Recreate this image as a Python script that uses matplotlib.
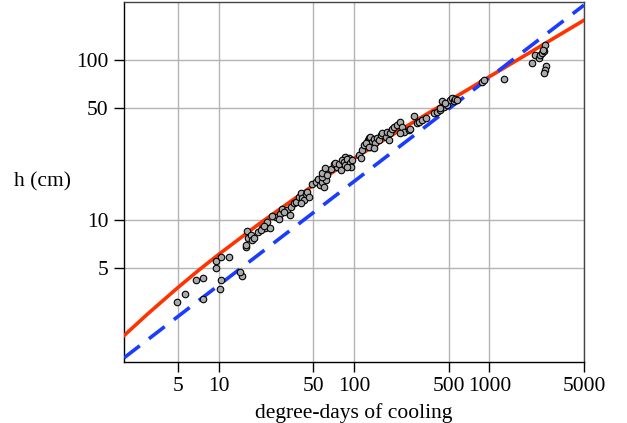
import matplotlib
matplotlib.use("Agg")
import matplotlib.pyplot as plt
from matplotlib.ticker import FixedLocator, FixedFormatter, NullLocator

# --- DATA ---
obs_dd = [4.96, 5.61, 6.76, 7.71, 7.71, 9.62, 9.62, 10.5, 11.9, 10.5, 10.3, 14.8, 14.5,
          16.1, 16.0, 16.0, 16.6, 17.2, 17.7, 18.2,
          19.6, 21.0, 22.0, 22.9, 23.8, 20.4, 21.5,
          26.4, 28.3, 29.5, 32.1, 33.6, 34.0, 36.0, 30.4, 24.8, 27.8,
          37.0, 39.1, 40.3, 41.4, 42.6, 43.9, 45.2, 46.5, 40.3,
          49.2, 52.0, 54.0, 55.8, 58.2, 60.0, 61.6, 58.2,
          62.7, 67.1, 70.9, 75.0, 79.5, 84.0, 89.0, 91.5, 86.5,
          58.2, 61.0, 63.5, 73.0, 77.2, 79.5, 82.0, 84.0, 86.5, 89.0, 93.0, 95.5, 97.3, 89.0,
          108, 115, 118, 126, 128, 132, 136, 140, 144, 132, 148, 153, 157, 162, 171, 176,
          181, 186, 191, 197, 208, 220, 226, 233, 218, 254, 261, 276, 293, 301, 320, 339,
          122, 128, 140, 112,
          388, 411, 430, 448, 460, 487, 515, 531, 546, 561, 578, 435, 474,
          883, 918, 1276,
          2065, 2183, 2312, 2377, 2448, 2518, 2588, 2635, 2588, 2546, 2490]
obs_h = [3.08, 3.48, 4.22, 4.32, 3.21, 5.57, 4.99, 5.90, 5.85, 4.22, 3.71, 4.47, 4.73,
         8.54, 6.81, 6.98, 7.69, 8.06, 7.5, 7.75,
         8.45, 8.87, 8.95, 9.67, 8.87, 8.66, 9.2,
         10.4, 10.9, 11.8, 11.5, 10.7, 12.0, 12.7, 11.3, 10.6, 10.2,
         13.0, 14.0, 14.8, 13.7, 13.3, 14.5, 15.0, 14.0, 12.7,
         16.9, 17.3, 18.0, 16.6, 17.3, 16.2, 17.8, 18.7,
         20.1, 20.8, 22.4, 21.5, 22.1, 22.6, 23.5, 24.3, 24.9,
         19.6, 21.0, 19.1, 22.8, 22.4, 20.5, 23.7, 23.1, 22.1, 23.9, 22.6, 21.3, 23.7, 21.5,
         25.5, 27.4, 29.4, 31.6, 32.4, 33.2, 30.8, 31.9, 30.1, 28.7, 32.4, 31.6, 34.0, 34.8, 33.2, 35.7,
         31.6, 34.8, 36.9, 38.3, 39.2, 41.1, 38.3, 35.7, 34.8, 36.5, 36.9, 44.7, 40.2, 41.1, 42.2, 43.3,
         30.1, 28.7, 28.0, 24.3,
         46.4, 47.5, 48.7, 55.5, 50.6, 52.4, 56.2, 57.6, 55.7, 56.8, 56.2, 49.9, 53.6,
         73.1, 75.0, 75.7,
         95.3, 107, 103, 107, 110, 113, 124, 91.7, 86.6, 82.6, 115]

# fitted model curve (red)
fit_dd = [2, 3, 5, 7.2, 10, 20, 56.6, 100, 200, 367, 500, 1000, 1600, 5000]
fit_h = [1.90, 2.60, 3.79, 4.90, 6.1, 9.5, 17.75, 24.3, 34.8, 47.4, 55.4, 78.6, 99.6, 177]

# power law (blue dashed)
pow_dd = [2, 5000]
pow_h = [1.38, 220]

xticks = [5, 10, 50, 100, 500, 1000, 5000]
yticks = [5, 10, 50, 100]

plt.rcParams['font.family'] = ['Liberation Serif', 'DejaVu Serif']
FS = 15.5

fig = plt.figure(figsize=(6.27, 4.23), dpi=100)
ax = fig.add_axes([124/627, 1 - 362/423, 460/627, 360/423])

ax.plot(fit_dd, fit_h, color='#ff3300', lw=2.6, zorder=3)
ax.plot(pow_dd, pow_h, color='#1a3cff', lw=2.6, dashes=(5.5, 3.2), zorder=3)
ax.scatter(obs_dd, obs_h, s=22, facecolor='#aaaaaa', edgecolor='black', linewidths=0.8, zorder=4)

ax.set_xscale('log')
ax.set_yscale('log')
ax.set_xlim(2, 5000)
ax.set_ylim(1.3, 230)

ax.xaxis.set_major_locator(FixedLocator(xticks))
ax.xaxis.set_major_formatter(FixedFormatter([str(t) for t in xticks]))
ax.xaxis.set_minor_locator(NullLocator())
ax.yaxis.set_major_locator(FixedLocator(yticks))
ax.yaxis.set_major_formatter(FixedFormatter([str(t) for t in yticks]))
ax.yaxis.set_minor_locator(NullLocator())

ax.grid(True, color='#b4b4b4', lw=1.0, zorder=0)
ax.set_axisbelow(True)
ax.tick_params(direction='out', length=7, width=1, labelsize=FS, pad=4)
for s in ax.spines.values():
    s.set_linewidth(1.0)
for s in ('top', 'right'):
    ax.spines[s].set_color('#444444')

ax.set_xlabel('degree-days of cooling', fontsize=FS, labelpad=5)
ax.set_ylabel('h (cm)', fontsize=FS, rotation=0, ha='center', va='center')
ax.yaxis.set_label_coords(-0.178, 0.5)

fig.savefig('out.png', dpi=100)
